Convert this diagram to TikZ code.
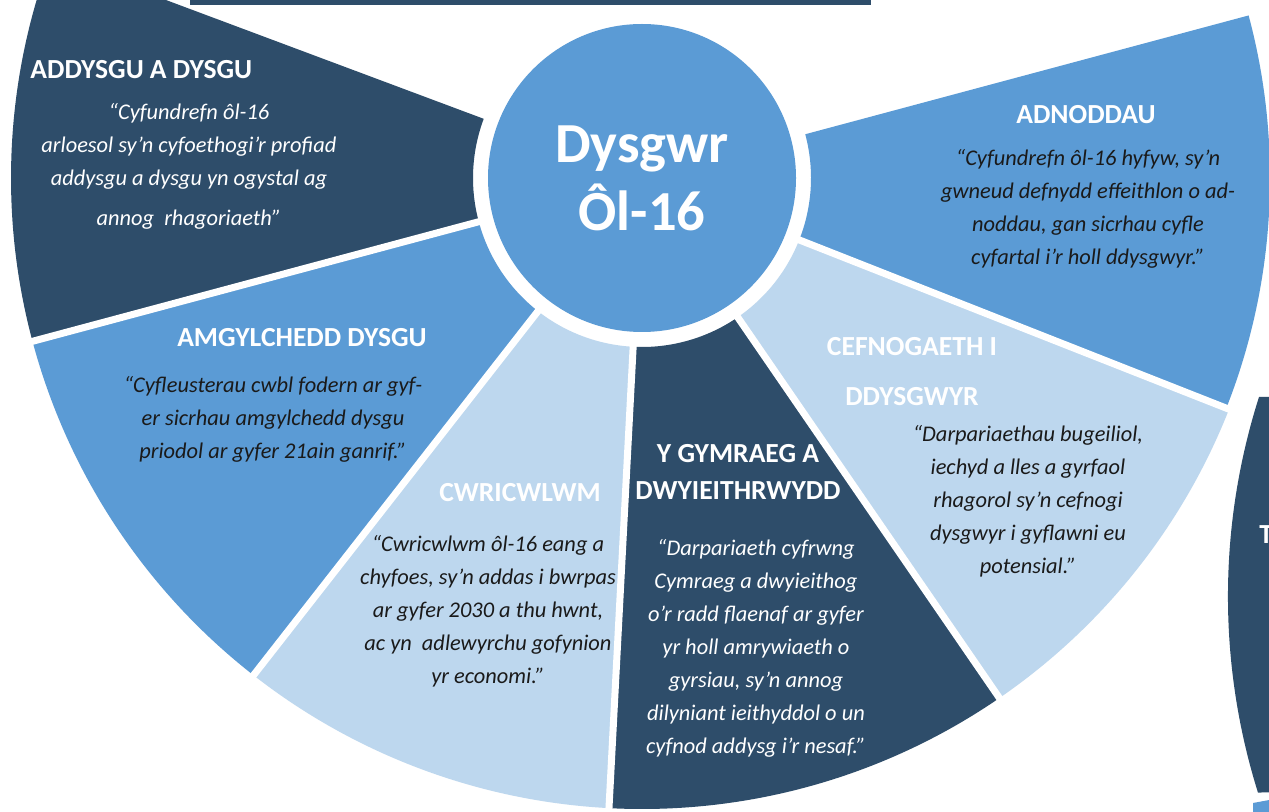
\documentclass[tikz,border=0pt]{standalone}
\usepackage{fontspec}
\setmainfont{Carlito}
\definecolor{navy}{HTML}{2E4D6A}
\definecolor{midblue}{HTML}{5B9BD5}
\definecolor{paleblue}{HTML}{BDD7EE}
\definecolor{ink}{HTML}{1A1A1A}
\tikzset{
    headline/.style = {text = white, align = center, inner sep = 0, font = \bfseries\fontsize{13.8}{18.5}\selectfont},
    quote/.style = {align = center, inner sep = 0, font = \itshape\fontsize{11.2}{16.5}\selectfont},
    gap/.style = {white, line width = 3.5pt},
    hubdisc/.style = {circle, fill = midblue, minimum size = 154pt, inner sep = 0, text = white, align = center, font = \bfseries\fontsize{28.3}{34}\selectfont}
}
\begin{document}
\begin{tikzpicture}[x = 0.5pt, y = -0.5pt]
    \clip (0, 0) rectangle (1269, 812);
    \fill [white] (0, 0) rectangle (1269, 812);
    \fill [navy] (190, 0) rectangle (871, 5);
    % the six parts of the wheel
    \begin{scope}[shift = {(642, 178)}]
        \fill [navy] (165:169) -- (165:631) arc [start angle = 165, end angle = 200.5, radius = 631] -- (200.5:169) arc [start angle = 200.5, end angle = 165, radius = 169] -- cycle;
        \fill [midblue] (128:169) -- (128:631) arc [start angle = 128, end angle = 165, radius = 631] -- (165:169) arc [start angle = 165, end angle = 128, radius = 169] -- cycle;
        \fill [paleblue] (93:169) -- (93:631) arc [start angle = 93, end angle = 128, radius = 631] -- (128:169) arc [start angle = 128, end angle = 93, radius = 169] -- cycle;
        \fill [navy] (55.5:169) -- (55.5:631) arc [start angle = 55.5, end angle = 93, radius = 631] -- (93:169) arc [start angle = 93, end angle = 55.5, radius = 169] -- cycle;
        \fill [paleblue] (21.5:169) -- (21.5:631) arc [start angle = 21.5, end angle = 55.5, radius = 631] -- (55.5:169) arc [start angle = 55.5, end angle = 21.5, radius = 169] -- cycle;
        \fill [midblue] (-15:169) -- (-15:628) arc [start angle = -15, end angle = 21.5, radius = 628] -- (21.5:169) arc [start angle = 21.5, end angle = -15, radius = 169] -- cycle;
        \foreach \a in {21.5, 55.5, 93, 128, 165}
            \draw [gap] (\a:150) -- (\a:660);
        \node [hubdisc] (hub) at (0, 0) {Dysgwr\\Ôl-16};
    \end{scope}
    % the next wheel, cut off at the right
    \fill [navy] (1259, 397) arc [start angle = 197.7, end angle = 162.6, radius = 656] -- (1280, 792) -- (1280, 397) -- cycle;
    \fill [midblue] (1253, 803) -- (1280, 798) -- (1280, 820) -- (1253, 820) -- cycle;
    \node [headline, anchor = west] (next-title) at (1259, 535) {T};
    % titles and quotes
    \node [headline, anchor = west] (addysgu-title) at (30, 70) {ADDYSGU A DYSGU};
    \node [quote, text = white] (addysgu-quote) at (189, 166) {“Cyfundrefn ôl-16\\arloesol sy’n cyfoethogi’r profiad\\addysgu a dysgu yn ogystal ag\\[3.5pt]annog\ \ rhagoriaeth”};
    \node [headline] (adnoddau-title) at (1086, 115) {ADNODDAU};
    \node [quote, text = ink] (adnoddau-quote) at (1088, 209) {“Cyfundrefn ôl-16 hyfyw, sy’n\\gwneud defnydd effeithlon o ad-\\noddau, gan sicrhau cyfle\\cyfartal i’r holl ddysgwyr.”};
    \node [headline, font = \bfseries\fontsize{13.8}{25}\selectfont] (cefnogaeth-title) at (912, 372) {CEFNOGAETH I\\DDYSGWYR};
    \node [quote, text = ink] (cefnogaeth-quote) at (1028, 501) {“Darpariaethau bugeiliol,\\iechyd a lles a gyrfaol\\rhagorol sy’n cefnogi\\dysgwyr i gyflawni eu\\potensial.”};
    \node [headline] (cymraeg-title) at (738, 471.5) {Y GYMRAEG A\\DWYIEITHRWYDD};
    \node [quote, text = white] (cymraeg-quote) at (756, 648.5) {“Darpariaeth cyfrwng\\Cymraeg a dwyieithog\\o’r radd flaenaf ar gyfer\\yr holl amrywiaeth o\\gyrsiau, sy’n annog\\dilyniant ieithyddol o un\\cyfnod addysg i’r nesaf.”};
    \node [headline] (amgylchedd-title) at (302, 338) {AMGYLCHEDD DYSGU};
    \node [quote, text = ink] (amgylchedd-quote) at (273, 419) {“Cyfleusterau cwbl fodern ar gyf-\\er sicrhau amgylchedd dysgu\\priodol ar gyfer 21ain ganrif.”};
    \node [headline] (cwricwlwm-title) at (520, 493) {CWRICWLWM};
    \node [quote, text = ink] (cwricwlwm-quote) at (488, 611) {“Cwricwlwm ôl-16 eang a\\chyfoes, sy’n addas i bwrpas\\ar gyfer 2030 a thu hwnt,\\ac yn\ \ adlewyrchu gofynion\\yr economi.”};
\end{tikzpicture}
\end{document}
